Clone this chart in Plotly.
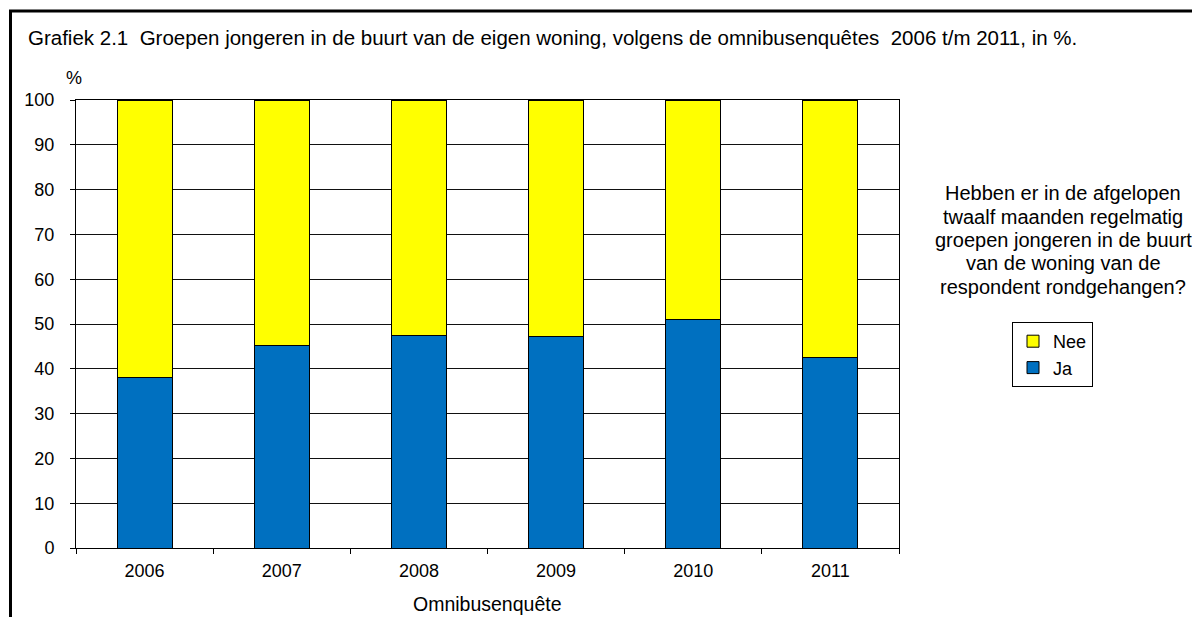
import plotly.graph_objects as go

years = ["2006", "2007", "2008", "2009", "2010", "2011"]
ja = [38.1, 45.2, 47.4, 47.3, 50.9, 42.6]
nee = [61.9, 54.8, 52.6, 52.7, 49.1, 57.4]
y_ticks = [0, 10, 20, 30, 40, 50, 60, 70, 80, 90, 100]

title_text = "Grafiek 2.1\u00a0 Groepen jongeren in de buurt van de eigen woning, volgens de omnibusenquêtes\u00a0 2006 t/m 2011, in %."
question_lines = [
    "Hebben er in de afgelopen",
    "twaalf maanden regelmatig",
    "groepen jongeren in de buurt",
    "van de woning van de",
    "respondent rondgehangen?",
]

# page body has an 8px margin: work in window pixels, shift by OFF
OFF = 8
W, H = 1200 - OFF, 617 - OFF
PL, PR, PT, PB = 76, 899, 100, 548  # plot area in window pixels
L, T = PL - OFF, PT - OFF
R, B = W - (PR - OFF), H - (PB - OFF)
PW, PH = PR - PL, PB - PT
FONT = "Liberation Sans, Arial, sans-serif"


def px(x):
    return (x - PL) / PW


def py(y):
    return (PB - y) / PH


fig = go.Figure()
fig.add_trace(go.Bar(x=years, y=ja, name="Ja", marker=dict(color="#0070C0", line=dict(color="#000000", width=1))))
fig.add_trace(go.Bar(x=years, y=nee, name="Nee", marker=dict(color="#FFFF00", line=dict(color="#000000", width=1))))

annotations = [
    dict(x=px(26), y=py(38), xref="paper", yref="paper", text=title_text, showarrow=False,
         xanchor="left", yanchor="middle", font=dict(size=20.5, color="#000")),
    dict(x=px(74), y=py(78), xref="paper", yref="paper", text="%", showarrow=False,
         xanchor="center", yanchor="middle", font=dict(size=18, color="#000")),
    dict(x=px(487), y=py(604), xref="paper", yref="paper", text="Omnibusenquête", showarrow=False,
         xanchor="center", yanchor="middle", font=dict(size=19.5, color="#000")),
]
for i, line in enumerate(question_lines):
    annotations.append(dict(x=px(1063), y=py(193 + i * 23.5), xref="paper", yref="paper", text=line,
                            showarrow=False, xanchor="center", yanchor="middle",
                            font=dict(size=20, color="#000")))

fig.update_layout(
    width=W, height=H,
    margin=dict(l=L, r=R, t=T, b=B, pad=0),
    paper_bgcolor="white", plot_bgcolor="white",
    barmode="stack", bargap=0.6,
    font=dict(family=FONT, color="#000", size=18),
    showlegend=True,
    legend=dict(x=px(1012), y=py(322), xanchor="left", yanchor="top", traceorder="reversed",
                bordercolor="#000", borderwidth=1, bgcolor="white", itemwidth=30,
                font=dict(size=18), tracegroupgap=0),
    xaxis=dict(type="category", tickson="boundaries", ticks="outside", ticklen=5, tickcolor="#000",
               showline=True, linecolor="#000", linewidth=1, mirror=True, showgrid=False,
               tickfont=dict(size=18), ticklabelstandoff=6),
    yaxis=dict(range=[0, 100], tickvals=y_ticks, ticks="outside", ticklen=5, tickcolor="#000",
               showline=True, linecolor="#000", linewidth=1, mirror=True, showgrid=True,
               gridcolor="#111", gridwidth=1, zeroline=False, tickfont=dict(size=18),
               ticklabelstandoff=12),
    annotations=annotations,
    shapes=[dict(type="rect", xref="paper", yref="paper", x0=px(10.5), y0=py(700), x1=px(1260), y1=py(11),
                 line=dict(color="#000", width=3), fillcolor="rgba(0,0,0,0)", layer="above")],
)

fig.write_html("out.html")
